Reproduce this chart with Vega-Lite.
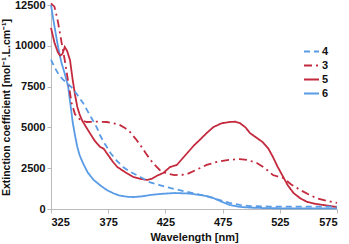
{
  "$schema": "https://vega.github.io/schema/vega-lite/v6.json",
  "width": 286,
  "height": 204,
  "autosize": "none",
  "padding": {"left": 51, "top": 5, "right": 12, "bottom": 35},
  "background": "white",
  "config": {
    "view": {"stroke": null},
    "font": "Liberation Sans",
    "axis": {"grid": false, "domainColor": "#bbbbbb", "tickColor": "#bbbbbb", "labelFont": "Liberation Sans", "labelFontWeight": "bold", "labelFontSize": 11, "labelColor": "#111111", "titleFont": "Liberation Sans", "titleFontWeight": "bold", "titleFontSize": 10.5, "titleColor": "#111111", "tickSize": 4},
    "legend": {"orient": "none", "legendX": 252, "legendY": 38, "symbolType": "stroke", "symbolSize": 225, "symbolStrokeWidth": 2, "labelFont": "Liberation Sans", "labelFontSize": 11, "labelFontWeight": "bold", "labelColor": "#111111", "labelOffset": 2, "rowPadding": 0}
  },
  "data": {"values": [
    {"s":"6","x":325,"y":12500},{"s":"6","x":328,"y":11200},{"s":"6","x":331,"y":10000},{"s":"6","x":334,"y":9000},{"s":"6","x":337,"y":8300},{"s":"6","x":340,"y":7500},{"s":"6","x":342,"y":6400},{"s":"6","x":344,"y":5300},{"s":"6","x":346,"y":4500},{"s":"6","x":348,"y":3800},{"s":"6","x":350,"y":3300},{"s":"6","x":353,"y":2800},{"s":"6","x":357,"y":2250},{"s":"6","x":362,"y":1800},{"s":"6","x":368,"y":1450},{"s":"6","x":374,"y":1150},{"s":"6","x":380,"y":950},{"s":"6","x":385,"y":820},{"s":"6","x":392,"y":750},{"s":"6","x":397,"y":730},{"s":"6","x":405,"y":780},{"s":"6","x":412,"y":860},{"s":"6","x":422,"y":930},{"s":"6","x":433,"y":980},{"s":"6","x":445,"y":950},{"s":"6","x":455,"y":860},{"s":"6","x":462,"y":780},{"s":"6","x":467,"y":670},{"s":"6","x":474,"y":450},{"s":"6","x":481,"y":250},{"s":"6","x":490,"y":130},{"s":"6","x":500,"y":80},{"s":"6","x":515,"y":50},{"s":"6","x":530,"y":40},{"s":"6","x":550,"y":40},{"s":"6","x":575,"y":40},
    {"s":"5","x":325,"y":11100},{"s":"5","x":328,"y":10200},{"s":"5","x":331,"y":9600},{"s":"5","x":333,"y":9400},{"s":"5","x":335,"y":9500},{"s":"5","x":337,"y":9930},{"s":"5","x":339,"y":9700},{"s":"5","x":341.6,"y":9130},{"s":"5","x":344,"y":7900},{"s":"5","x":346,"y":7000},{"s":"5","x":348,"y":6250},{"s":"5","x":350,"y":5800},{"s":"5","x":352,"y":5450},{"s":"5","x":355,"y":5100},{"s":"5","x":359,"y":4650},{"s":"5","x":363,"y":4200},{"s":"5","x":368,"y":3800},{"s":"5","x":371,"y":3700},{"s":"5","x":375,"y":3300},{"s":"5","x":379,"y":2900},{"s":"5","x":383,"y":2570},{"s":"5","x":390,"y":2250},{"s":"5","x":397,"y":1960},{"s":"5","x":403,"y":1850},{"s":"5","x":409,"y":1780},{"s":"5","x":413,"y":1850},{"s":"5","x":418,"y":2050},{"s":"5","x":423,"y":2200},{"s":"5","x":429,"y":2570},{"s":"5","x":435,"y":2700},{"s":"5","x":440,"y":3100},{"s":"5","x":445,"y":3500},{"s":"5","x":450,"y":3900},{"s":"5","x":455,"y":4230},{"s":"5","x":461,"y":4650},{"s":"5","x":467,"y":5020},{"s":"5","x":474,"y":5250},{"s":"5","x":481,"y":5330},{"s":"5","x":486,"y":5350},{"s":"5","x":490,"y":5270},{"s":"5","x":495,"y":5000},{"s":"5","x":499,"y":4650},{"s":"5","x":505,"y":4350},{"s":"5","x":510,"y":4100},{"s":"5","x":515,"y":3700},{"s":"5","x":519,"y":3190},{"s":"5","x":523,"y":2600},{"s":"5","x":528,"y":1960},{"s":"5","x":532,"y":1450},{"s":"5","x":537,"y":980},{"s":"5","x":543,"y":650},{"s":"5","x":549,"y":430},{"s":"5","x":556,"y":320},{"s":"5","x":563,"y":245},{"s":"5","x":575,"y":120},
    {"s":"3","x":325,"y":12600},{"s":"3","x":328,"y":12400},{"s":"3","x":331,"y":11500},{"s":"3","x":334,"y":10300},{"s":"3","x":337,"y":9130},{"s":"3","x":340,"y":7800},{"s":"3","x":343,"y":6500},{"s":"3","x":346,"y":5800},{"s":"3","x":350,"y":5500},{"s":"3","x":356,"y":5330},{"s":"3","x":365,"y":5350},{"s":"3","x":374,"y":5330},{"s":"3","x":380,"y":5250},{"s":"3","x":385,"y":5150},{"s":"3","x":390,"y":4950},{"s":"3","x":394,"y":4720},{"s":"3","x":399,"y":4300},{"s":"3","x":403,"y":3920},{"s":"3","x":408,"y":3400},{"s":"3","x":414,"y":2820},{"s":"3","x":420,"y":2390},{"s":"3","x":426,"y":2180},{"s":"3","x":433,"y":2080},{"s":"3","x":440,"y":2100},{"s":"3","x":444,"y":2140},{"s":"3","x":452,"y":2400},{"s":"3","x":461,"y":2700},{"s":"3","x":470,"y":2880},{"s":"3","x":479,"y":3000},{"s":"3","x":490,"y":3060},{"s":"3","x":497,"y":3000},{"s":"3","x":505,"y":2820},{"s":"3","x":512,"y":2500},{"s":"3","x":519,"y":2080},{"s":"3","x":528,"y":1900},{"s":"3","x":535,"y":1500},{"s":"3","x":543,"y":1160},{"s":"3","x":550,"y":900},{"s":"3","x":557,"y":670},{"s":"3","x":566,"y":500},{"s":"3","x":575,"y":370},
    {"s":"4","x":325,"y":9150},{"s":"4","x":328,"y":8700},{"s":"4","x":332,"y":8200},{"s":"4","x":336,"y":7900},{"s":"4","x":340,"y":7650},{"s":"4","x":343,"y":7450},{"s":"4","x":348,"y":7000},{"s":"4","x":353,"y":6500},{"s":"4","x":357,"y":6000},{"s":"4","x":361,"y":5500},{"s":"4","x":365,"y":5000},{"s":"4","x":368,"y":4500},{"s":"4","x":372,"y":4000},{"s":"4","x":377,"y":3430},{"s":"4","x":382,"y":3000},{"s":"4","x":388,"y":2570},{"s":"4","x":395,"y":2250},{"s":"4","x":403,"y":1960},{"s":"4","x":411,"y":1650},{"s":"4","x":420,"y":1470},{"s":"4","x":429,"y":1290},{"s":"4","x":439,"y":1130},{"s":"4","x":449,"y":980},{"s":"4","x":458,"y":830},{"s":"4","x":467,"y":670},{"s":"4","x":474,"y":520},{"s":"4","x":481,"y":370},{"s":"4","x":490,"y":250},{"s":"4","x":499,"y":180},{"s":"4","x":515,"y":150},{"s":"4","x":530,"y":150},{"s":"4","x":550,"y":150},{"s":"4","x":575,"y":150}
  ]},
  "mark": {"type": "line", "strokeWidth": 1.8},
  "encoding": {
    "x": {"field": "x", "type": "quantitative", "title": "Wavelength [nm]", "scale": {"domain": [325, 575], "nice": false, "zero": false}, "axis": {"values": [325, 375, 425, 475, 525, 575], "format": "d", "labelPadding": 3, "titlePadding": 4, "titleFontSize": 11}},
    "y": {"field": "y", "type": "quantitative", "title": "Extinction coefficient  [mol⁻¹.L.cm⁻¹]", "scale": {"domain": [0, 12500], "nice": false}, "axis": {"values": [0, 2500, 5000, 7500, 10000, 12500], "format": "d", "titleX": -40, "labelPadding": 2}},
    "color": {"field": "s", "type": "nominal", "title": null, "scale": {"domain": ["4", "3", "5", "6"], "range": ["#5a9be6", "#c42a3e", "#c42a3e", "#5a9be6"]}},
    "strokeDash": {"field": "s", "type": "nominal", "title": null, "scale": {"domain": ["4", "3", "5", "6"], "range": [[6, 4], [8, 4, 2, 4], [1, 0], [1, 0]]}},
    "order": {"field": "x"}
  }
}
